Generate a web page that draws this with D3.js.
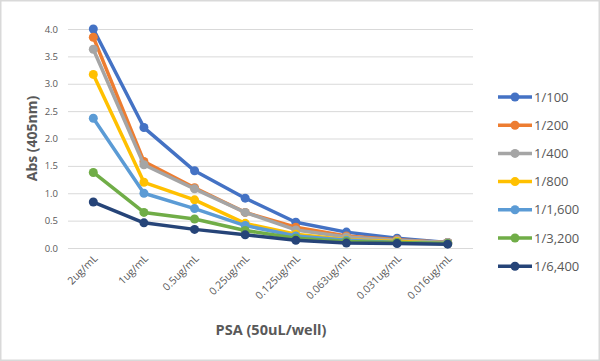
<!DOCTYPE html>
<html>
<head>
<meta charset="utf-8">
<script src="https://cdn.jsdelivr.net/npm/d3@7"></script>
<style>
  html, body { margin: 0; padding: 0; background: #fff; }
  svg { display: block; }
</style>
</head>
<body>
<svg id="chart"></svg>
<script>
(() => {

  const categories = ['2ug/mL', '1ug/mL', '0.5ug/mL', '0.25ug/mL', '0.125ug/mL', '0.063ug/mL', '0.031ug/mL', '0.016ug/mL'];
  const seriesNames = ['1/100', '1/200', '1/400', '1/800', '1/1,600', '1/3,200', '1/6,400'];
  const s100 = [4.00, 2.20, 1.41, 0.91, 0.47, 0.29, 0.18, 0.10];
  const s200 = [3.85, 1.58, 1.10, 0.65, 0.38, 0.22, 0.15, 0.10];
  const s400 = [3.63, 1.52, 1.08, 0.65, 0.33, 0.20, 0.14, 0.10];
  const s800 = [3.17, 1.20, 0.88, 0.45, 0.25, 0.15, 0.12, 0.08];
  const s1600 = [2.37, 1.00, 0.72, 0.41, 0.22, 0.14, 0.10, 0.08];
  const s3200 = [1.38, 0.65, 0.53, 0.32, 0.18, 0.12, 0.10, 0.08];
  const s6400 = [0.84, 0.46, 0.34, 0.24, 0.14, 0.09, 0.08, 0.07];
  const yTicks = [0, 0.5, 1, 1.5, 2, 2.5, 3, 3.5, 4];

  const colors = ['#4472C4', '#ED7D31', '#A5A5A5', '#FFC000', '#5B9BD5', '#70AD47', '#264478'];
  const dataset = [s100, s200, s400, s800, s1600, s3200, s6400].map((values, i) => ({
    name: seriesNames[i],
    values: values,
    color: colors[i]
  }));

  const width = 600;
  const height = 361;
  const font = '"Open Sans", "Liberation Sans", sans-serif';
  const textColor = '#595959';

  const svg = d3.select('#chart')
    .attr('width', width)
    .attr('height', height);

  // chart frame
  svg.append('rect')
    .attr('x', 0.75).attr('y', 0.75)
    .attr('width', width - 1.5).attr('height', height - 1.5)
    .attr('fill', '#fff')
    .attr('stroke', '#d9d9d9')
    .attr('stroke-width', 1.5);

  const plot = { left: 68, right: 473, top: 29, bottom: 248 };

  const x = d3.scaleBand()
    .domain(categories)
    .range([plot.left, plot.right]);

  const y = d3.scaleLinear()
    .domain([0, 4])
    .range([plot.bottom, plot.top]);

  // gridlines
  svg.append('g')
    .attr('transform', `translate(${plot.left},0)`)
    .call(d3.axisLeft(y).tickValues(yTicks).tickSize(-(plot.right - plot.left)).tickFormat(''))
    .call(g => g.select('.domain').remove())
    .call(g => g.selectAll('line').attr('stroke', '#d9d9d9').attr('stroke-width', 1));

  // y tick labels
  svg.append('g')
    .attr('transform', `translate(${plot.left},0)`)
    .call(d3.axisLeft(y).tickValues(yTicks).tickSize(0).tickPadding(10).tickFormat(d3.format('.1f')))
    .call(g => g.select('.domain').remove())
    .call(g => g.selectAll('text')
      .attr('fill', textColor)
      .style('font-family', font)
      .style('font-size', '9.5px'));

  // x tick labels
  svg.append('g')
    .attr('transform', `translate(0,${plot.bottom})`)
    .call(d3.axisBottom(x).tickSize(0).tickPadding(0))
    .call(g => g.select('.domain').remove())
    .call(g => g.selectAll('text')
      .attr('fill', textColor)
      .attr('text-anchor', 'end')
      .attr('dy', 0)
      .attr('transform', 'translate(5,11) rotate(-45)')
      .style('font-family', font)
      .style('font-size', '10.5px'));

  const line = d3.line()
    .x((d, i) => x(categories[i]) + x.bandwidth() / 2)
    .y(d => y(d));

  const series = svg.append('g')
    .selectAll('g')
    .data(dataset)
    .enter()
    .append('g');

  series.append('path')
    .attr('d', d => line(d.values))
    .attr('fill', 'none')
    .attr('stroke', d => d.color)
    .attr('stroke-width', 3.5)
    .attr('stroke-linejoin', 'round');

  series.selectAll('circle')
    .data(d => d.values.map((v, i) => ({ v: v, i: i, color: d.color })))
    .enter()
    .append('circle')
    .attr('cx', d => x(categories[d.i]) + x.bandwidth() / 2)
    .attr('cy', d => y(d.v))
    .attr('r', 4.5)
    .attr('fill', d => d.color);

  // axis titles
  svg.append('text')
    .attr('transform', `translate(37,${(plot.top + plot.bottom) / 2}) rotate(-90)`)
    .attr('text-anchor', 'middle')
    .attr('fill', textColor)
    .style('font-family', font)
    .style('font-size', '14px')
    .style('font-weight', 'bold')
    .text('Abs (405nm)');

  svg.append('text')
    .attr('x', 271)
    .attr('y', 335)
    .attr('text-anchor', 'middle')
    .attr('fill', textColor)
    .style('font-family', font)
    .style('font-size', '14.5px')
    .style('font-weight', 'bold')
    .text('PSA (50uL/well)');

  // legend
  const legend = svg.append('g')
    .selectAll('g')
    .data(dataset)
    .enter()
    .append('g')
    .attr('transform', (d, i) => `translate(498,${97 + i * 28.2})`);

  legend.append('line')
    .attr('x1', 0).attr('x2', 34)
    .attr('stroke', d => d.color)
    .attr('stroke-width', 3.5);

  legend.append('circle')
    .attr('cx', 17)
    .attr('r', 4.5)
    .attr('fill', d => d.color);

  legend.append('text')
    .attr('x', 36)
    .attr('dy', '0.35em')
    .attr('fill', textColor)
    .style('font-family', font)
    .style('font-size', '13px')
    .text(d => d.name);

})();
</script>
</body>
</html>
